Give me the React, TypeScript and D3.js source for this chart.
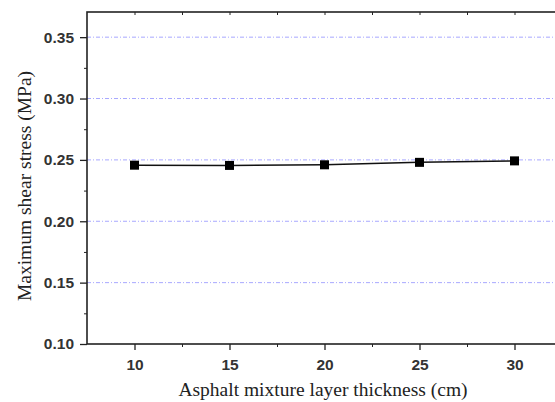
import React, { useEffect, useRef } from "react";
import * as d3 from "d3";

const thickness = [10, 15, 20, 25, 30];
const shearStress = [0.2457, 0.2455, 0.246, 0.248, 0.2492];
const yTicks = [0.1, 0.15, 0.2, 0.25, 0.3, 0.35];
const gridValues = [0.15, 0.2, 0.25, 0.3, 0.35];
const xTicks = [10, 15, 20, 25, 30];

const App = () => {
  const ref = useRef<SVGSVGElement>(null);

  useEffect(() => {
    const width = 555,
      height = 402;
    const margin = { top: 12, right: -7, bottom: 58, left: 87 };

    const svg = d3.select(ref.current);
    svg.selectAll("*").remove();

    const x = d3
      .scaleLinear()
      .domain([7.5, 32.5])
      .range([margin.left, width - margin.right]);
    const y = d3
      .scaleLinear()
      .domain([0.1, 0.3705])
      .range([height - margin.bottom, margin.top]);

    // grid lines
    svg
      .append("g")
      .selectAll("line")
      .data(gridValues)
      .join("line")
      .attr("x1", x(7.5))
      .attr("x2", x(32.5))
      .attr("y1", (d) => y(d))
      .attr("y2", (d) => y(d))
      .attr("stroke", "#a8a8ff")
      .attr("stroke-width", 1)
      .attr("stroke-dasharray", "4,2,1,2");

    // frame
    svg
      .append("rect")
      .attr("x", x(7.5))
      .attr("y", y(0.3705))
      .attr("width", x(32.5) - x(7.5))
      .attr("height", y(0.1) - y(0.3705))
      .attr("fill", "none")
      .attr("stroke", "#222")
      .attr("stroke-width", 1.6);

    const styleLabels = (g: any) =>
      g
        .selectAll("text")
        .attr("font-family", "Liberation Sans, Arial, sans-serif")
        .attr("font-weight", "bold")
        .attr("font-size", 15.5)
        .attr("fill", "#333");

    // left axis
    svg
      .append("g")
      .attr("transform", `translate(${x(7.5)},0)`)
      .call(
        d3
          .axisLeft(y)
          .tickValues(yTicks)
          .tickFormat(d3.format(".2f"))
          .tickSize(7)
          .tickPadding(6)
      )
      .call((g) => g.select(".domain").remove())
      .call((g) => g.selectAll("line").attr("stroke", "#222").attr("stroke-width", 1.3))
      .call(styleLabels);
    // minor y ticks
    svg
      .append("g")
      .attr("transform", `translate(${x(7.5)},0)`)
      .call(
        d3
          .axisLeft(y)
          .tickValues([0.125, 0.175, 0.225, 0.275, 0.325])
          .tickFormat(() => "")
          .tickSize(3)
      )
      .call((g) => g.select(".domain").remove())
      .call((g) => g.selectAll("line").attr("stroke", "#222"));

    // bottom axis
    svg
      .append("g")
      .attr("transform", `translate(0,${y(0.1)})`)
      .call(
        d3
          .axisBottom(x)
          .tickValues(xTicks)
          .tickFormat(d3.format("d"))
          .tickSize(6)
          .tickPadding(9)
      )
      .call((g) => g.select(".domain").remove())
      .call((g) => g.selectAll("line").attr("stroke", "#222").attr("stroke-width", 1.3))
      .call(styleLabels);
    svg
      .append("g")
      .attr("transform", `translate(0,${y(0.1)})`)
      .call(
        d3
          .axisBottom(x)
          .tickValues([12.5, 17.5, 22.5, 27.5])
          .tickFormat(() => "")
          .tickSize(3)
      )
      .call((g) => g.select(".domain").remove())
      .call((g) => g.selectAll("line").attr("stroke", "#222"));

    // top ticks (inward)
    svg
      .append("g")
      .attr("transform", `translate(0,${y(0.3705)})`)
      .call(
        d3
          .axisBottom(x)
          .tickValues([10, 12.5, 15, 17.5, 20, 22.5, 25, 27.5, 30])
          .tickFormat(() => "")
          .tickSize(3)
      )
      .call((g) => g.select(".domain").remove())
      .call((g) => g.selectAll("line").attr("stroke", "#222"));

    // line
    const pts = thickness.map((t, i) => [t, shearStress[i]] as [number, number]);
    svg
      .append("path")
      .datum(pts)
      .attr("fill", "none")
      .attr("stroke", "#111")
      .attr("stroke-width", 1.5)
      .attr(
        "d",
        d3
          .line<[number, number]>()
          .x((d) => x(d[0]))
          .y((d) => y(d[1]))
      );

    svg
      .append("g")
      .selectAll("rect")
      .data(pts)
      .join("rect")
      .attr("x", (d) => x(d[0]) - 4.5)
      .attr("y", (d) => y(d[1]) - 4.5)
      .attr("width", 9)
      .attr("height", 9)
      .attr("fill", "#000");

    // axis titles
    svg
      .append("text")
      .attr("x", 323)
      .attr("y", 396)
      .attr("text-anchor", "middle")
      .attr("font-family", "Liberation Serif, Times New Roman, serif")
      .attr("font-size", 19.5)
      .attr("fill", "#222")
      .text("Asphalt mixture layer thickness (cm)");

    svg
      .append("text")
      .attr("transform", `translate(31,186) rotate(-90)`)
      .attr("text-anchor", "middle")
      .attr("font-family", "Liberation Serif, Times New Roman, serif")
      .attr("font-size", 19.5)
      .attr("fill", "#222")
      .text("Maximum shear stress (MPa)");
  }, []);

  return (
    <svg
      ref={ref}
      width={555}
      height={402}
      style={{ position: "absolute", left: 0, top: 0, background: "#fff" }}
    />
  );
};

export default App;
